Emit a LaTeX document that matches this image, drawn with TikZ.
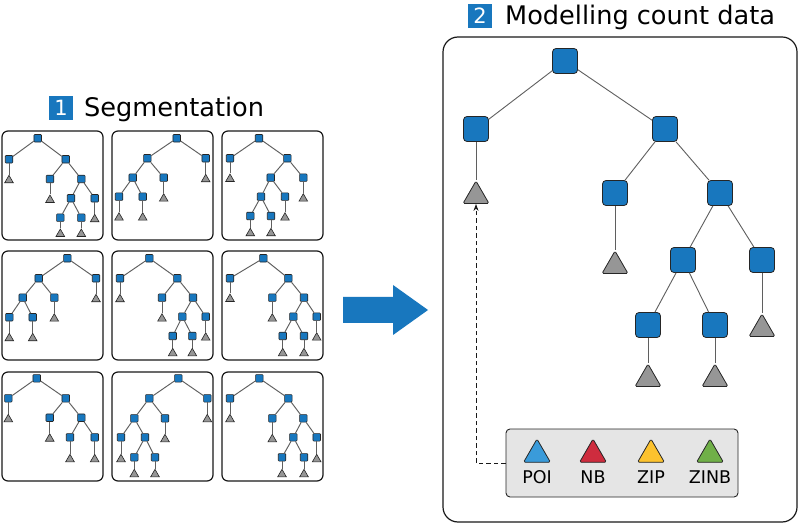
\documentclass[tikz,border=0pt]{standalone}
\usepackage{fontspec}
\setmainfont{DejaVu Sans}
\usetikzlibrary{shapes.geometric,arrows.meta}
\definecolor{nblue}{RGB}{24,119,190}
\definecolor{tgray}{RGB}{150,150,150}
\definecolor{egray}{RGB}{95,95,95}
\definecolor{lgray}{RGB}{229,229,229}
\definecolor{cpoi}{RGB}{58,155,218}
\definecolor{cnb}{RGB}{206,44,62}
\definecolor{czip}{RGB}{252,194,46}
\definecolor{czinb}{RGB}{112,176,72}
\tikzset{
  sn/.style={rectangle,fill=nblue,draw=black!85,line width=0.6pt,minimum size=7.5pt,inner sep=0pt,rounded corners=0.8pt},
  sl/.style={regular polygon,regular polygon sides=3,fill=tgray,draw=black!85,line width=0.6pt,minimum size=10pt,inner sep=0pt},
  se/.style={draw=egray,line width=0.95pt},
  bn/.style={rectangle,fill=nblue,draw=black!85,line width=0.8pt,minimum size=25pt,inner sep=0pt,rounded corners=3.5pt},
  bl/.style={regular polygon,regular polygon sides=3,fill=tgray,draw=black!85,line width=0.8pt,minimum size=30pt,inner sep=0pt,rounded corners=1.5pt},
  be/.style={draw=egray,line width=0.9pt},
  lt/.style={regular polygon,regular polygon sides=3,draw=black!85,line width=0.8pt,minimum size=31pt,inner sep=0pt,rounded corners=1.5pt},
  lab/.style={font=\fontsize{17.5}{20}\selectfont,inner sep=0pt},
  panel/.style={draw=black!90,line width=1.2pt,rounded corners=6pt},
  numbox/.style={fill=nblue,text=white,minimum size=24pt,inner sep=0pt,font=\fontsize{21}{24}\selectfont},
  head/.style={font=\fontsize{25.6}{29}\selectfont,inner sep=0pt,anchor=base west}
}
\newcommand\Sq[3]{\node[sn] (#1) at (#2,#3) {};}
\newcommand\Lf[3]{\node[sl] (#1) at (#2,#3) {};}
\newcommand\Ed[2]{\draw[se] (#1) -- (#2);}
\begin{document}
\begin{tikzpicture}[x=1pt,y=-1pt]
\useasboundingbox (0,0) rectangle (800,526);
\fill[white] (0,0) rectangle (800,526);
% headers
\node[numbox] (n1) at (61,108) {1};
\node[head] (h1) at (84,117) {Segmentation};
\node[numbox] (n2) at (480,16) {2};
\node[head] (h2) at (505,25) {Modelling count data};
% small panels
\foreach \x in {2,112,222}{
  \foreach \y in {131,251,372}{
    \draw[panel] (\x,\y) rectangle ++(101,109);
  }
}
% panel 1
\Sq{a0}{37.7}{138.3}
\Sq{a1}{9}{159.3} \Lf{a1t}{9}{180.3}
\Sq{a2}{65.7}{159.3}
\Sq{a21}{50}{179} \Lf{a21t}{50}{200}
\Sq{a22}{81.3}{179}
\Sq{a221}{71}{198.3}
\Sq{a222}{94.7}{198.3} \Lf{a222t}{94.7}{219.3}
\Sq{a2211}{60.3}{217.7} \Lf{a2211t}{60.3}{234}
\Sq{a2212}{81.3}{217.7} \Lf{a2212t}{81.3}{234}
\Ed{a0}{a1}\Ed{a1}{a1t}\Ed{a0}{a2}\Ed{a2}{a21}\Ed{a21}{a21t}\Ed{a2}{a22}
\Ed{a22}{a221}\Ed{a22}{a222}\Ed{a222}{a222t}\Ed{a221}{a2211}\Ed{a221}{a2212}
\Ed{a2211}{a2211t}\Ed{a2212}{a2212t}
% panel 2
\Sq{b0}{176.7}{138.3}
\Sq{b1}{147.3}{158.3}
\Sq{b2}{205.7}{158.3} \Lf{b2t}{205.7}{179.3}
\Sq{b11}{132.7}{177.7}
\Sq{b12}{163.7}{177.7} \Lf{b12t}{163.7}{198.7}
\Sq{b111}{119}{196.7} \Lf{b111t}{119}{217.7}
\Sq{b112}{142.7}{196.7} \Lf{b112t}{142.7}{217.7}
\Ed{b0}{b1}\Ed{b0}{b2}\Ed{b2}{b2t}\Ed{b1}{b11}\Ed{b1}{b12}\Ed{b12}{b12t}
\Ed{b11}{b111}\Ed{b11}{b112}\Ed{b111}{b111t}\Ed{b112}{b112t}
% panel 3
\Sq{c0}{259}{138.3}
\Sq{c1}{230}{158.3} \Lf{c1t}{230}{179}
\Sq{c2}{287.3}{158.3}
\Sq{c21}{270.7}{177.7}
\Sq{c22}{303.3}{177.7} \Lf{c22t}{303.3}{198.7}
\Sq{c211}{261}{196.7}
\Sq{c212}{285}{196.7} \Lf{c212t}{285}{217.7}
\Sq{c2111}{250.3}{216} \Lf{c2111t}{250.3}{233.3}
\Sq{c2112}{271}{216} \Lf{c2112t}{271}{233.3}
\Ed{c0}{c1}\Ed{c1}{c1t}\Ed{c0}{c2}\Ed{c2}{c21}\Ed{c2}{c22}\Ed{c22}{c22t}
\Ed{c21}{c211}\Ed{c21}{c212}\Ed{c212}{c212t}\Ed{c211}{c2111}\Ed{c211}{c2112}
\Ed{c2111}{c2111t}\Ed{c2112}{c2112t}
% panel 4
\Sq{d0}{67.3}{258.3}
\Sq{d1}{38.7}{278.3}
\Sq{d2}{96}{278.3} \Lf{d2t}{96}{299.3}
\Sq{d11}{22.7}{297.7}
\Sq{d12}{54.3}{297.7} \Lf{d12t}{54.3}{318.7}
\Sq{d111}{9.3}{317.3} \Lf{d111t}{9.3}{338.3}
\Sq{d112}{32.7}{317.3} \Lf{d112t}{32.7}{338.3}
\Ed{d0}{d1}\Ed{d0}{d2}\Ed{d2}{d2t}\Ed{d1}{d11}\Ed{d1}{d12}\Ed{d12}{d12t}
\Ed{d11}{d111}\Ed{d11}{d112}\Ed{d111}{d111t}\Ed{d112}{d112t}
% panel 5
\Sq{e0}{149.3}{258.3}
\Sq{e1}{120}{278.3} \Lf{e1t}{120}{299.3}
\Sq{e2}{177.3}{278.3}
\Sq{e21}{162}{297.7} \Lf{e21t}{162}{318.7}
\Sq{e22}{193}{297.7}
\Sq{e221}{182.3}{316.7}
\Sq{e222}{205.7}{316.7} \Lf{e222t}{205.7}{337.7}
\Sq{e2211}{172.7}{336} \Lf{e2211t}{172.7}{353.3}
\Sq{e2212}{192.3}{336} \Lf{e2212t}{192.3}{353.3}
\Ed{e0}{e1}\Ed{e1}{e1t}\Ed{e0}{e2}\Ed{e2}{e21}\Ed{e21}{e21t}\Ed{e2}{e22}
\Ed{e22}{e221}\Ed{e22}{e222}\Ed{e222}{e222t}\Ed{e221}{e2211}\Ed{e221}{e2212}
\Ed{e2211}{e2211t}\Ed{e2212}{e2212t}
% panel 6
\Sq{f0}{263.3}{258.3}
\Sq{f1}{230}{278.3} \Lf{f1t}{230}{299}
\Sq{f2}{288.3}{278.3}
\Sq{f21}{272.3}{297.7} \Lf{f21t}{272.3}{318.7}
\Sq{f22}{304}{297.7}
\Sq{f221}{293.3}{316.7}
\Sq{f222}{316.7}{316.7} \Lf{f222t}{316.7}{337.7}
\Sq{f2211}{282.7}{336} \Lf{f2211t}{282.7}{353.3}
\Sq{f2212}{304}{336} \Lf{f2212t}{304}{353.3}
\Ed{f0}{f1}\Ed{f1}{f1t}\Ed{f0}{f2}\Ed{f2}{f21}\Ed{f21}{f21t}\Ed{f2}{f22}
\Ed{f22}{f221}\Ed{f22}{f222}\Ed{f222}{f222t}\Ed{f221}{f2211}\Ed{f221}{f2212}
\Ed{f2211}{f2211t}\Ed{f2212}{f2212t}
% panel 7
\Sq{g0}{36.7}{378.3}
\Sq{g1}{8.3}{398.3} \Lf{g1t}{8.3}{419.3}
\Sq{g2}{65.7}{398.3}
\Sq{g21}{49.7}{417.7} \Lf{g21t}{49.7}{438.7}
\Sq{g22}{81.3}{417.7}
\Sq{g221}{70}{437.3} \Lf{g221t}{70}{459.3}
\Sq{g222}{94.7}{437.3} \Lf{g222t}{94.7}{459.3}
\Ed{g0}{g1}\Ed{g1}{g1t}\Ed{g0}{g2}\Ed{g2}{g21}\Ed{g21}{g21t}\Ed{g2}{g22}
\Ed{g22}{g221}\Ed{g22}{g222}\Ed{g221}{g221t}\Ed{g222}{g222t}
% panel 8
\Sq{h0}{178.3}{378.3}
\Sq{h1}{149.3}{398.3}
\Sq{h2}{207.3}{398.3} \Lf{h2t}{207.3}{419.3}
\Sq{h11}{134.3}{418.3}
\Sq{h12}{165}{418.3} \Lf{h12t}{165}{439.3}
\Sq{h111}{121}{437.3} \Lf{h111t}{121}{459.3}
\Sq{h112}{145}{437.3}
\Sq{h1121}{134.3}{457.3} \Lf{h1121t}{134.3}{474.3}
\Sq{h1122}{155}{457.3} \Lf{h1122t}{155}{474.3}
\Ed{h0}{h1}\Ed{h0}{h2}\Ed{h2}{h2t}\Ed{h1}{h11}\Ed{h1}{h12}\Ed{h12}{h12t}
\Ed{h11}{h111}\Ed{h11}{h112}\Ed{h111}{h111t}\Ed{h112}{h1121}\Ed{h112}{h1122}
\Ed{h1121}{h1121t}\Ed{h1122}{h1122t}
% panel 9
\Sq{i0}{259.3}{378.3}
\Sq{i1}{230}{398.3} \Lf{i1t}{230}{419.3}
\Sq{i2}{288.3}{398.3}
\Sq{i21}{272.3}{418.3} \Lf{i21t}{272.3}{439.3}
\Sq{i22}{303.3}{418.3}
\Sq{i221}{293.3}{437.3}
\Sq{i222}{316.7}{437.3} \Lf{i222t}{316.7}{459.3}
\Sq{i2211}{282}{457.3} \Lf{i2211t}{282}{474.3}
\Sq{i2212}{304}{457.3} \Lf{i2212t}{304}{474.3}
\Ed{i0}{i1}\Ed{i1}{i1t}\Ed{i0}{i2}\Ed{i2}{i21}\Ed{i21}{i21t}\Ed{i2}{i22}
\Ed{i22}{i221}\Ed{i22}{i222}\Ed{i222}{i222t}\Ed{i221}{i2211}\Ed{i221}{i2212}
\Ed{i2211}{i2211t}\Ed{i2212}{i2212t}
% big arrow
\fill[nblue] (343,297) -- (393,297) -- (393,285) -- (428,310) -- (393,335) -- (393,323) -- (343,323) -- cycle;
% big panel
\draw[draw=black!90,line width=1.2pt,rounded corners=15pt] (443,37) rectangle (797,522);
% big tree
\node[bn] (R) at (565,61) {};
\node[bn] (A) at (476,129) {};
\node[bl] (At) at (476,196) {};
\node[bn] (B) at (665,129) {};
\node[bn] (BL) at (615,193) {};
\node[bl] (BLt) at (615,266) {};
\node[bn] (BR) at (720,193) {};
\node[bn] (BRL) at (683,260) {};
\node[bn] (BRR) at (762,260) {};
\node[bl] (BRRt) at (762,329) {};
\node[bn] (BRLL) at (648,325) {};
\node[bl] (BRLLt) at (648,379) {};
\node[bn] (BRLR) at (715,325) {};
\node[bl] (BRLRt) at (715,379) {};
\draw[be] (R) -- (A); \draw[be] (R) -- (B); \draw[be] (A) -- (At);
\draw[be] (B) -- (BL); \draw[be] (B) -- (BR); \draw[be] (BL) -- (BLt);
\draw[be] (BR) -- (BRL); \draw[be] (BR) -- (BRR); \draw[be] (BRR) -- (BRRt);
\draw[be] (BRL) -- (BRLL); \draw[be] (BRL) -- (BRLR);
\draw[be] (BRLL) -- (BRLLt); \draw[be] (BRLR) -- (BRLRt);
% legend
\node[draw=black!85,fill=lgray,line width=0.9pt,rounded corners=4pt,minimum width=232pt,minimum height=68pt,inner sep=0pt] (leg) at (622,463) {};
\node[lt,fill=cpoi] (tp) at (537,454.5) {};
\node[lt,fill=cnb] (tn) at (593,454.5) {};
\node[lt,fill=czip] (tz) at (651,454.5) {};
\node[lt,fill=czinb] (tzn) at (710,454.5) {};
\node[lab] (lp) at (537,477) {POI};
\node[lab] (ln) at (593,477) {NB};
\node[lab] (lz) at (651,477) {ZIP};
\node[lab] (lzn) at (710,477) {ZINB};
\draw[line width=1pt,black!90,dash pattern=on 4.5pt off 3pt,-{Stealth[length=7pt,width=5pt]}] (leg.west) -| (At.south);
\end{tikzpicture}
\end{document}
